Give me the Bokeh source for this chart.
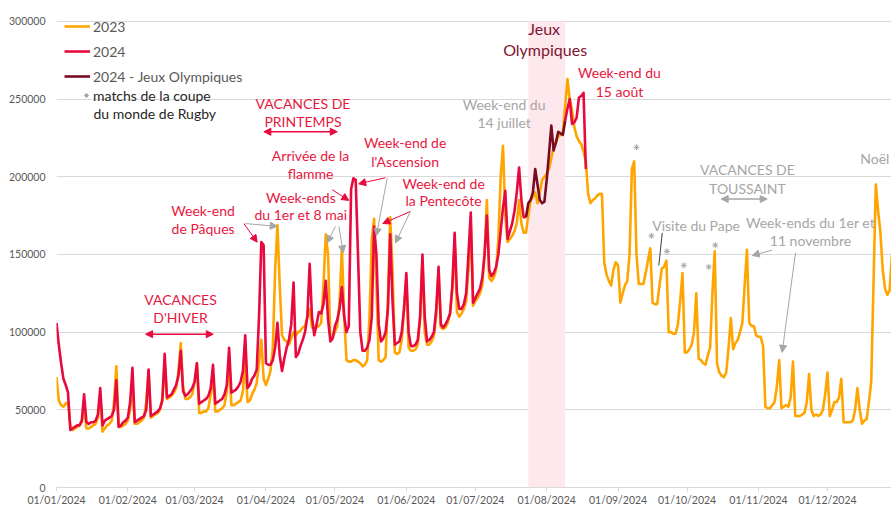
import pandas as pd
from bokeh.plotting import figure
from bokeh.models import (ColumnDataSource, FixedTicker, DatetimeTickFormatter,
                          NumeralTickFormatter, BoxAnnotation, Label, Arrow, NormalHead,
                          Legend, LegendItem, Range1d)
from bokeh.embed import file_html
from bokeh.resources import INLINE

START = pd.Timestamp("2024-01-01")
NAN = float("nan")

# ---------------- data (daily traffic, thousands) ----------------
# 2023, aligned on the 2024 weekdays, 01/01 -> 29/12
trafic_2023 = [
    71, 56, 53, 52, 54, 55, 40,   37, 38, 39, 40, 42, 52, 38,
    38, 39, 40, 41, 45, 60, 36,   38, 40, 41, 43, 55, 78, 40,
    39, 40, 41, 43, 50, 66, 41,   41, 42, 43, 45, 55, 75, 45,
    46, 47, 48, 50, 58, 80, 57,   58, 59, 61, 64, 75, 93, 65,
    57, 57, 58, 60, 68, 80, 48,   48, 49, 49, 51, 60, 72, 49,
    49, 50, 51, 53, 62, 80, 53,   53, 54, 55, 56, 62, 83, 55,
    56, 60, 63, 67, 80, 95, 70,   66, 70, 75, 90, 140, 169, 130,
    98, 95, 94, 92, 96, 100, 98,  100, 101, 103, 104, 110, 115, 103,
    102, 103, 104, 106, 130, 163, 150,  95, 97, 100, 104, 120, 154, 110,
    82, 81, 81, 82, 82, 81, 80,   78, 79, 82, 110, 160, 173, 130,
    82, 81, 82, 84, 120, 174, 140,  87, 86, 87, 95, 115, 135, 90,
    88, 88, 89, 92, 110, 145, 100,  92, 92, 94, 98, 110, 140, 103,
    102, 103, 106, 112, 128, 158, 113,  110, 112, 115, 120, 140, 170, 117,
    120, 122, 125, 130, 150, 185, 135,  133, 135, 140, 160, 200, 220, 175,
    158, 160, 162, 165, 170, 185, 170,  164, 164, 175, 185, 187, 190, 183,
    190, 198, 200, 202, 205, 212, 219,  222, 226, 227, 228, 245, 263, 250,
    243, 232, 226, 223, 221, 216, 210,  189, 183, 185, 186, 188, 189, 189,
    145, 137, 133, 130, 140, 145, 143,  119, 125, 130, 133, 150, 205, 210,
    150, 131, 131, 131, 138, 146, 154,  119, 118, 118, 130, 141, 142, 146,
    100, 100, 99, 99, 105, 120, 138,  87, 87, 89, 92, 100, 125, 83,
    82, 80, 79, 85, 90, 125, 152,  80, 74, 72, 71, 74, 90, 109,
    89, 93, 95, 100, 106, 130, 153,  106, 104, 104, 98, 97, 97, 91,
    52, 51, 51, 53, 55, 65, 82,   51, 52, 53, 52, 58, 81, 46,
    46, 46, 47, 48, 55, 73, 50,   46, 47, 46, 47, 50, 60, 74,
    46, 50, 55, 55, 58, 70, 42,   42, 42, 42, 43, 50, 64, 50,
    41, 43, 44, 55, 68, 132, 195,  178, 164, 140, 128, 124, 127, 150,
]

# 2024 before the Olympic period (01/01 -> 23/07)
trafic_2024_avant = [
    106, 92, 80, 70, 66, 61, 37,  38, 39, 40, 40, 43, 60, 42,
    41, 42, 42, 43, 47, 64, 40,   43, 44, 45, 46, 50, 69, 39,
    40, 42, 43, 45, 55, 77, 42,   43, 44, 45, 46, 50, 76, 46,
    47, 48, 49, 51, 56, 86, 58,   59, 60, 63, 66, 72, 88, 62,
    59, 60, 62, 64, 68, 80, 54,   55, 56, 57, 59, 64, 79, 54,
    55, 56, 57, 60, 66, 90, 61,   62, 63, 65, 68, 75, 98, 64,
    66, 70, 72, 76, 110, 158, 156,  80, 79, 79, 82, 90, 106, 85,
    75, 83, 90, 95, 105, 132, 84,  86, 91, 95, 100, 110, 144, 110,
    98, 105, 113, 112, 118, 133, 108,  94, 96, 104, 108, 115, 129, 110,
    100, 104, 192, 199, 198, 150, 100,  88, 88, 90, 95, 110, 168, 150,
    105, 94, 96, 100, 115, 163, 120,  92, 93, 94, 100, 115, 138, 100,
    91, 91, 92, 95, 110, 150, 110,  94, 95, 97, 100, 115, 142, 105,
    103, 105, 108, 112, 130, 164, 125,  115, 115, 118, 125, 150, 177, 119,
    122, 125, 128, 135, 150, 175, 140,  136, 138, 142, 150, 165, 180, 191,
    160, 165, 170, 178, 190, 206, 185,  174, 174,
]
# 2024 during the Olympic period (23/07 -> 09/08)
trafic_2024_jo = [174, 183, 185, 190, 205, 195, 185, 183, 184, 198,
                  215, 233, 217, 222, 229, 228, 227, 236]
# 2024 after (09/08 -> 18/08)
trafic_2024_apres = [236, 244, 250, 234, 235, 238, 251, 252, 254, 205]

# Rugby World Cup match markers
rugby_dates = ["2024-09-09 00:00", "2024-09-15 12:00", "2024-09-22 06:00",
               "2024-09-29 14:00", "2024-10-10 10:00", "2024-10-13 06:00"]
rugby_levels = [219, 162, 152, 143, 142, 156]

jo_period = ("2024-07-24", "2024-08-09")
y_ticks = [0, 50000, 100000, 150000, 200000, 250000, 300000]
month_starts = pd.date_range("2024-01-01", periods=12, freq="MS")

# ---------------- helpers ----------------
def ms(t):
    return (pd.Timestamp(t) - pd.Timestamp("1970-01-01")) / pd.Timedelta(milliseconds=1)

def dms(day):
    return ms(START + pd.Timedelta(days=day))

ORANGE = "#FFA500"
RED = "#E8093E"
DARK = "#7A0C22"
GRAY = "#A6A6A6"
TXT_RED = "#E8173F"
FONT = "Lato"

n23 = len(trafic_2023)
days23 = pd.date_range(START, periods=n23, freq="D")
src23 = ColumnDataSource(dict(x=days23, y=[v * 1000 for v in trafic_2023]))

n_av = len(trafic_2024_avant)
n_jo = len(trafic_2024_jo)
red_vals = trafic_2024_avant + [NAN] * (n_jo - 2) + trafic_2024_apres
days24 = pd.date_range(START, periods=len(red_vals), freq="D")
src24 = ColumnDataSource(dict(x=days24, y=[v * 1000 for v in red_vals]))
jo_days = pd.date_range(START + pd.Timedelta(days=n_av - 1), periods=n_jo, freq="D")
srcjo = ColumnDataSource(dict(x=jo_days, y=[v * 1000 for v in trafic_2024_jo]))
srcrg = ColumnDataSource(dict(x=[pd.Timestamp(d) for d in rugby_dates],
                              y=[v * 1000 for v in rugby_levels]))

# ---------------- figure ----------------
p = figure(width=891, height=508, output_backend="svg", toolbar_location=None,
           x_axis_type="datetime",
           x_range=Range1d(dms(0), dms(362.81)), y_range=Range1d(0, 308333),
           min_border_left=56, min_border_right=0, min_border_top=8, min_border_bottom=19)
p.outline_line_color = None
p.background_fill_color = "white"
p.border_fill_color = "white"

p.add_layout(BoxAnnotation(left=ms(jo_period[0]), right=ms(jo_period[1]), bottom=0, top=300000,
                           fill_color="#FDE8EE", fill_alpha=1, line_color=None, level="underlay"))

p.xgrid.grid_line_color = None
p.ygrid.grid_line_color = "#D9D9D9"
p.ygrid.grid_line_width = 1
p.yaxis.ticker = FixedTicker(ticks=y_ticks)
p.yaxis.formatter = NumeralTickFormatter(format="0")
p.yaxis.axis_line_color = None
p.yaxis.major_tick_line_color = None
p.yaxis.minor_tick_line_color = None
p.yaxis.major_tick_out = 0
p.yaxis.major_label_standoff = 11
p.yaxis.major_label_text_font = FONT
p.yaxis.major_label_text_font_size = "10.5px"
p.yaxis.major_label_text_color = "#595959"

p.xaxis.ticker = FixedTicker(ticks=[ms(t) for t in month_starts])
fmt = "%d/%m/%Y"
p.xaxis.formatter = DatetimeTickFormatter(days=fmt, months=fmt, years=fmt, hours=fmt,
                                          hourmin=fmt, minutes=fmt, minsec=fmt, seconds=fmt,
                                          milliseconds=fmt, microseconds=fmt)
p.xaxis.axis_line_color = "#D9D9D9"
p.xaxis.major_tick_line_color = "#D9D9D9"
p.xaxis.minor_tick_line_color = None
p.xaxis.major_tick_in = 0
p.xaxis.major_tick_out = 4
p.xaxis.major_label_standoff = 2
p.xaxis.major_label_text_font = FONT
p.xaxis.major_label_text_font_size = "10.5px"
p.xaxis.major_label_text_color = "#595959"

r23 = p.line("x", "y", source=src23, color=ORANGE, line_width=2.6, line_join="round")
r24 = p.line("x", "y", source=src24, color=RED, line_width=2.6, line_join="round")
rjo = p.line("x", "y", source=srcjo, color=DARK, line_width=2.6, line_join="round")
rrg = p.scatter("x", "y", source=srcrg, marker="asterisk", size=6, line_color=GRAY, line_width=1)

leg = Legend(items=[LegendItem(label="2023", renderers=[r23]),
                    LegendItem(label="2024", renderers=[r24]),
                    LegendItem(label="2024 - Jeux Olympiques", renderers=[rjo])],
             location="top_left", margin=0, padding=8, glyph_width=26, glyph_height=20,
             label_height=20, label_standoff=3, spacing=5,
             label_text_font=FONT, label_text_font_size="14px", label_text_color="#595959",
             background_fill_alpha=0, border_line_alpha=0)
p.add_layout(leg)
leg2 = Legend(items=[LegendItem(label="matchs de la coupe", renderers=[rrg])],
              location=(24, 383), margin=0, padding=0, glyph_width=12, glyph_height=18,
              label_height=18, label_standoff=1, spacing=0,
              label_text_font=FONT, label_text_font_size="14px", label_text_color="#262626",
              background_fill_alpha=0, border_line_alpha=0)
p.add_layout(leg2)
p.add_layout(Label(x=dms(16.08), y=241000, text="du monde de Rugby", text_color="#262626",
                   text_font=FONT, text_font_size="14px", text_align="left",
                   text_baseline="middle"))

# ---------------- annotations ----------------
texts = [
    ("VACANCES", 53.9, 121.1, TXT_RED), ("D'HIVER", 53.9, 109.6, TXT_RED),
    ("VACANCES DE", 107.1, 247.4, TXT_RED), ("PRINTEMPS", 107.1, 235.9, TXT_RED),
    ("Week-end", 63.7, 178.2, TXT_RED), ("de Pâques", 63.7, 166.7, TXT_RED),
    ("Arrivée de la", 110.4, 213.5, TXT_RED), ("flamme", 110.4, 201.9, TXT_RED),
    ("Week-end de", 151.5, 221.8, TXT_RED), ("l'Ascension", 151.5, 209.6, TXT_RED),
    ("Week-end de", 168.2, 195.5, TXT_RED), ("la Pentecôte", 168.2, 184.6, TXT_RED),
    ("Week-ends", 106.2, 186.5, TXT_RED), ("du 1er et 8 mai", 106.2, 175.6, TXT_RED),
    ("Week-end du", 194.5, 246.7, GRAY), ("14 juillet", 194.5, 235.2, GRAY),
    ("Week-end du", 244.6, 267.3, TXT_RED), ("15 août", 244.6, 255.1, TXT_RED),
    ("VACANCES DE", 300.2, 204.5, GRAY), ("TOUSSAINT", 300.2, 192.3, GRAY),
    ("Visite du Pape", 277.9, 168.6, GRAY),
    ("Week-ends du 1er et", 327.6, 170.5, GRAY), ("11 novembre", 327.6, 159.0, GRAY),
]
for t, d, v, c in texts:
    p.add_layout(Label(x=dms(d), y=v * 1000, text=t, text_color=c, text_font=FONT,
                       text_font_size="14px", text_align="center", text_baseline="middle"))
for t, d, v in [("Jeux", 211.9, 295.5), ("Olympiques", 212.3, 281.7)]:
    p.add_layout(Label(x=dms(d), y=v * 1000, text=t, text_color="#7F1530", text_font=FONT,
                       text_font_size="16px", text_align="center", text_baseline="middle"))
p.add_layout(Label(x=dms(361.9), y=211500, text="Noël", text_color=GRAY, text_font=FONT,
                   text_font_size="14px", text_align="right", text_baseline="middle"))

arrows = [
    (81.4, 169.9, 87.2, 157.9, RED), (82.1, 169.9, 95.9, 168.1, GRAY),
    (119.8, 191.7, 127.0, 184.8, RED),
    (142.9, 199.4, 131.3, 195.5, RED), (143.7, 199.4, 139.0, 162.2, GRAY),
    (153.8, 177.7, 141.8, 169.9, RED), (153.8, 177.7, 147.3, 157.5, GRAY),
    (121.2, 168.1, 117.6, 157.5, GRAY), (122.7, 168.1, 124.6, 151.1, GRAY),
    (311.0, 152.8, 302.3, 149.4, GRAY), (321.1, 151.1, 315.3, 87.0, GRAY),
]
for d0, v0, d1, v1, c in arrows:
    p.add_layout(Arrow(x_start=dms(d0), y_start=v0 * 1000, x_end=dms(d1), y_end=v1 * 1000,
                       line_color=c, line_width=1,
                       end=NormalHead(size=7, fill_color=c, line_color=c)))
for d0, d1, v, c in [(38.7, 68.1, 98.7, RED), (90.1, 122.0, 229.0, RED), (288.8, 308.8, 185.7, GRAY)]:
    p.add_layout(Arrow(x_start=dms(d0), y_start=v * 1000, x_end=dms(d1), y_end=v * 1000,
                       line_color=c, line_width=1.5,
                       start=NormalHead(size=7, fill_color=c, line_color=c),
                       end=NormalHead(size=7, fill_color=c, line_color=c)))
p.add_layout(Arrow(x_start=dms(263.2), y_start=163900, x_end=dms(261.7), y_end=142900,
                   line_color="#404040", line_width=1, end=None))

open("out.html", "w").write(file_html(p, INLINE))
